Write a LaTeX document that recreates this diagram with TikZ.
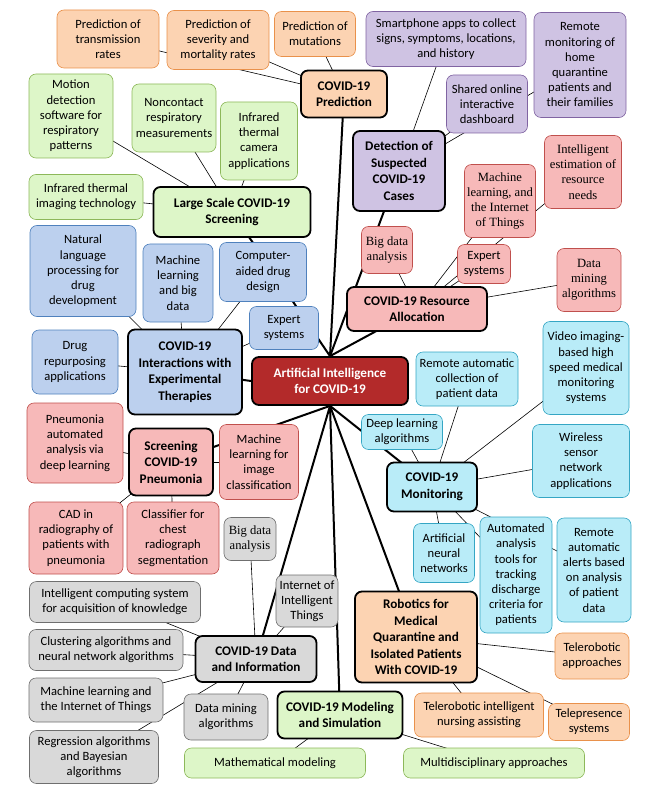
\documentclass[tikz,border=0pt]{standalone}
\usepackage{fontspec}
\setmainfont{Carlito}
\newfontfamily\serifleaf{Liberation Serif}
\usetikzlibrary{backgrounds}
\definecolor{orfill}{HTML}{FCD3B2}\definecolor{ordraw}{HTML}{E9914B}
\definecolor{pufill}{HTML}{CFC3E3}\definecolor{pudraw}{HTML}{8064A2}
\definecolor{grfill}{HTML}{DDF6C8}\definecolor{grdraw}{HTML}{8DB85A}
\definecolor{refill}{HTML}{F7B9B9}\definecolor{redraw}{HTML}{C0504D}
\definecolor{blfill}{HTML}{BCD0EE}\definecolor{bldraw}{HTML}{4F81BD}
\definecolor{cyfill}{HTML}{B9ECF8}\definecolor{cydraw}{HTML}{35A6C4}
\definecolor{gyfill}{HTML}{D9D9D9}\definecolor{gydraw}{HTML}{6F6F6F}
\definecolor{aifill}{HTML}{B32A2A}

\begin{document}
\begin{tikzpicture}[x=1pt,y=-1pt,
box/.style={rounded corners=7pt, align=center, inner sep=1.5pt,
  font=\fontsize{12.6}{15.2}\selectfont},
leaf/.style n args={3}{box, draw=#1draw, fill=#1fill, line width=0.6pt,
  minimum width=#2, minimum height=#3},
topic/.style n args={3}{box, draw=black, fill=#1fill, line width=1.8pt,
  font=\fontsize{13.2}{16.5}\selectfont\bfseries, minimum width=#2, minimum height=#3},
serif/.style={font=\fontsize{12.6}{15.2}\selectfont\serifleaf},
link/.style={line width=0.6pt},
main/.style={line width=2pt}]
\useasboundingbox (0,0) rectangle (666,799);

\node[box, draw=black, line width=1.8pt, fill=aifill, text=white,
  font=\fontsize{13.2}{16.5}\selectfont\bfseries,
  minimum width=156pt, minimum height=48pt] (ai) at (330,381)
  {Artificial Intelligence\\for COVID-19};

% topics
\node[topic={or}{86pt}{47pt}] (pred) at (344,94) {COVID-19\\Prediction};
\node[topic={pu}{92pt}{80pt}] (detect) at (399,171) {Detection of\\Suspected\\COVID-19\\Cases};
\node[topic={gr}{157pt}{50pt}] (screen) at (232,212) {Large Scale COVID-19\\Screening};
\node[topic={re}{140pt}{44pt}] (resource) at (417,309) {COVID-19 Resource\\Allocation};
\node[topic={bl}{114pt}{85pt}] (therapy) at (185,372) {COVID-19\\Interactions with\\Experimental\\Therapies};
\node[topic={cy}{90pt}{49pt}] (monitor) at (432,487) {COVID-19\\Monitoring};
\node[topic={re}{84pt}{67pt}] (pneu) at (171,462) {Screening\\COVID-19\\Pneumonia};
\node[topic={or}{122pt}{91pt}] (robot) at (416,637) {Robotics for\\Medical\\Quarantine and\\Isolated Patients\\With COVID-19};
\node[topic={gy}{121pt}{46pt}] (data) at (256,659) {COVID-19 Data\\and Information};
\node[topic={gr}{125pt}{47pt}] (model) at (340,715) {COVID-19 Modeling\\and Simulation};

% prediction
\node[leaf={or}{102pt}{58pt}] (pred1) at (108,39) {Prediction of\\transmission\\rates};
\node[leaf={or}{102pt}{59pt}] (pred2) at (218,40) {Prediction of\\severity and\\mortality rates};
\node[leaf={or}{81pt}{45pt}] (pred3) at (315,34) {Prediction of\\mutations};
% detection
\node[leaf={pu}{160pt}{55pt}] (det1) at (446,39) {Smartphone apps to collect\\signs, symptoms, locations,\\and history};
\node[leaf={pu}{92pt}{105pt}] (det2) at (580,65) {Remote\\monitoring of\\home\\quarantine\\patients and\\their families};
\node[leaf={pu}{81pt}{58pt}] (det3) at (487,104) {Shared online\\interactive\\dashboard};
% screening
\node[leaf={gr}{84pt}{84pt}] (scr1) at (71,116) {Motion\\detection\\software for\\respiratory\\patterns};
\node[leaf={gr}{84pt}{68pt}] (scr2) at (174,118) {Noncontact\\respiratory\\measurements};
\node[leaf={gr}{77pt}{78pt}] (scr3) at (259,141) {Infrared\\thermal\\camera\\applications};
\node[leaf={gr}{114pt}{45pt}] (scr4) at (86,197) {Infrared thermal\\imaging technology};
% resource
\node[leaf={re}{77pt}{73pt}, serif] (res1) at (583,172) {Intelligent\\estimation of\\resource\\needs};
\node[leaf={re}{71pt}{73pt}, serif] (res2) at (500,201) {Machine\\learning, and\\the Internet\\of Things};
\node[leaf={re}{51pt}{47pt}, serif] (res3) at (387,250) {Big data\\analysis};
\node[leaf={re}{53pt}{39pt}] (res4) at (484,264) {Expert\\systems};
\node[leaf={re}{64pt}{63pt}, serif] (res5) at (589,280) {Data\\mining\\algorithms};
% therapies
\node[leaf={bl}{106pt}{91pt}] (the1) at (83,271) {Natural\\language\\processing for\\drug\\development};
\node[leaf={bl}{70pt}{78pt}] (the2) at (178,283) {Machine\\learning\\and big\\data};
\node[leaf={bl}{87pt}{59pt}] (the3) at (263,272) {Computer-\\aided drug\\design};
\node[leaf={bl}{69pt}{43pt}] (the4) at (284,328) {Expert\\systems};
\node[leaf={bl}{86pt}{64pt}] (the5) at (75,362) {Drug\\repurposing\\applications};
% monitoring
\node[leaf={cy}{102pt}{54pt}] (mon1) at (467,379) {Remote automatic\\collection of\\patient data};
\node[leaf={cy}{86pt}{93pt}] (mon2) at (586,368) {Video imaging-\\based high\\speed medical\\monitoring\\systems};
\node[leaf={cy}{81pt}{35pt}] (mon3) at (402,432) {Deep learning\\algorithms};
\node[leaf={cy}{97pt}{73pt}] (mon4) at (581,461) {Wireless\\sensor\\network\\applications};
\node[leaf={cy}{61pt}{59pt}] (mon5) at (444,553) {Artificial\\neural\\networks};
\node[leaf={cy}{72pt}{116pt}] (mon6) at (516,575) {Automated\\analysis\\tools for\\tracking\\discharge\\criteria for\\patients};
\node[leaf={cy}{74pt}{104pt}] (mon7) at (594,570) {Remote\\automatic\\alerts based\\on analysis\\of patient\\data};
% pneumonia
\node[leaf={re}{96pt}{80pt}] (pne1) at (75,443) {Pneumonia\\automated\\analysis via\\deep learning};
\node[leaf={re}{79pt}{75pt}] (pne2) at (259,462) {Machine\\learning for\\image\\classification};
\node[leaf={re}{94pt}{72pt}] (pne3) at (76,538) {CAD in\\radiography of\\patients with\\pneumonia};
\node[leaf={re}{92pt}{72pt}] (pne4) at (173,538) {Classifier for\\chest\\radiograph\\segmentation};
% data
\node[leaf={gy}{52pt}{43pt}, serif] (dat1) at (250,539) {Big data\\analysis};
\node[leaf={gy}{62pt}{52pt}] (dat2) at (307,601) {Internet of\\Intelligent\\Things};
\node[leaf={gy}{171pt}{41pt}] (dat3) at (115,602) {Intelligent computing system\\for acquisition of knowledge};
\node[leaf={gy}{154pt}{41pt}] (dat4) at (106,650) {Clustering algorithms and\\neural network algorithms};
\node[leaf={gy}{134pt}{44pt}] (dat5) at (96,700) {Machine learning and\\the Internet of Things};
\node[leaf={gy}{84pt}{46pt}] (dat6) at (226,717) {Data mining\\algorithms};
\node[leaf={gy}{129pt}{53pt}] (dat7) at (94,757) {Regression algorithms\\and Bayesian\\algorithms};
% robotics
\node[leaf={or}{74pt}{46pt}] (rob1) at (592,656) {Telerobotic\\approaches};
\node[leaf={or}{129pt}{44pt}] (rob2) at (479,715) {Telerobotic intelligent\\nursing assisting};
\node[leaf={or}{81pt}{37pt}] (rob3) at (589,722) {Telepresence\\systems};
% modeling
\node[leaf={gr}{181pt}{30pt}] (mod1) at (275,763) {Mathematical modeling};
\node[leaf={gr}{181pt}{30pt}] (mod2) at (494,763) {Multidisciplinary approaches};

\begin{scope}[on background layer]
\foreach \t in {pred,detect,screen,resource}
  \draw[main] (ai.north) -- (\t.center);
\draw[main] (ai.west) -- (therapy.center);
\foreach \t in {monitor,pneu,robot,data,model}
  \draw[main] (ai.south) -- (\t.center);
\foreach \t/\l in {pred/pred1,pred/pred2,pred/pred3,detect/det1,detect/det2,detect/det3,
  screen/scr1,screen/scr2,screen/scr3,screen/scr4,
  resource/res1,resource/res2,resource/res3,resource/res4,resource/res5,
  therapy/the1,therapy/the2,therapy/the3,therapy/the4,therapy/the5,
  monitor/mon1,monitor/mon2,monitor/mon3,monitor/mon4,monitor/mon5,monitor/mon6,monitor/mon7,
  pneu/pne1,pneu/pne2,pneu/pne3,pneu/pne4,
  data/dat1,data/dat2,data/dat3,data/dat4,data/dat5,data/dat6,data/dat7,
  robot/rob1,robot/rob2,robot/rob3,model/mod1,model/mod2}
  \draw[link] (\t.center) -- (\l.center);
\end{scope}
\end{tikzpicture}
\end{document}
